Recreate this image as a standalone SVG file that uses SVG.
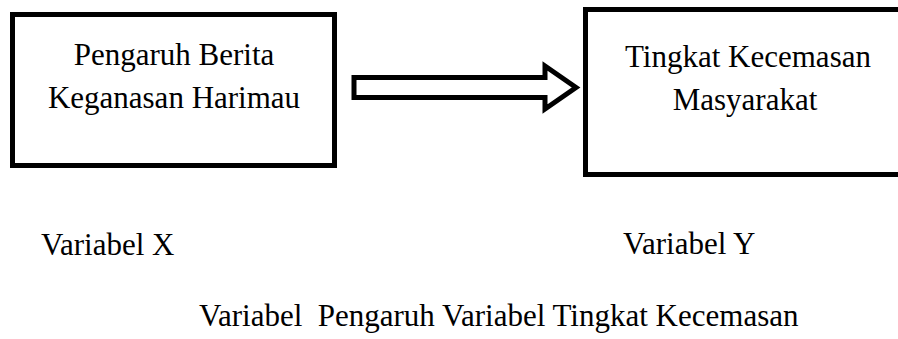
<svg xmlns="http://www.w3.org/2000/svg" width="898" height="339" viewBox="0 0 898 339">
<style>
.box{fill:#fff;stroke:#000;stroke-width:5}
.t{font-family:"Liberation Serif","Times New Roman",serif;font-size:31px;fill:#000}
.c{text-anchor:middle}
.arrow{fill:#fff;stroke:#000;stroke-width:5;stroke-linejoin:miter}
</style>
<rect width="898" height="339" fill="#fff"/>
<g id="node-x">
<rect class="box" x="12.5" y="14.5" width="322" height="151"/>
<text class="t c" x="174" y="65">Pengaruh Berita</text>
<text class="t c" x="174" y="108">Keganasan Harimau</text>
</g>
<g id="node-y">
<rect class="box" x="585.5" y="9.5" width="330" height="165"/>
<text class="t c" x="748" y="67">Tingkat Kecemasan</text>
<text class="t c" x="745" y="110">Masyarakat</text>
</g>
<g id="connectors">
<polygon class="arrow" points="354,77.5 545,77.5 545,66 576,87.5 545,109 545,97.5 354,97.5"/>
</g>
<g id="labels">
<text class="t" x="41" y="255">Variabel X</text>
<text class="t" x="623" y="254">Variabel Y</text>
<text class="t" x="199" y="326" xml:space="preserve">Variabel  Pengaruh Variabel Tingkat Kecemasan</text>
</g>
</svg>
